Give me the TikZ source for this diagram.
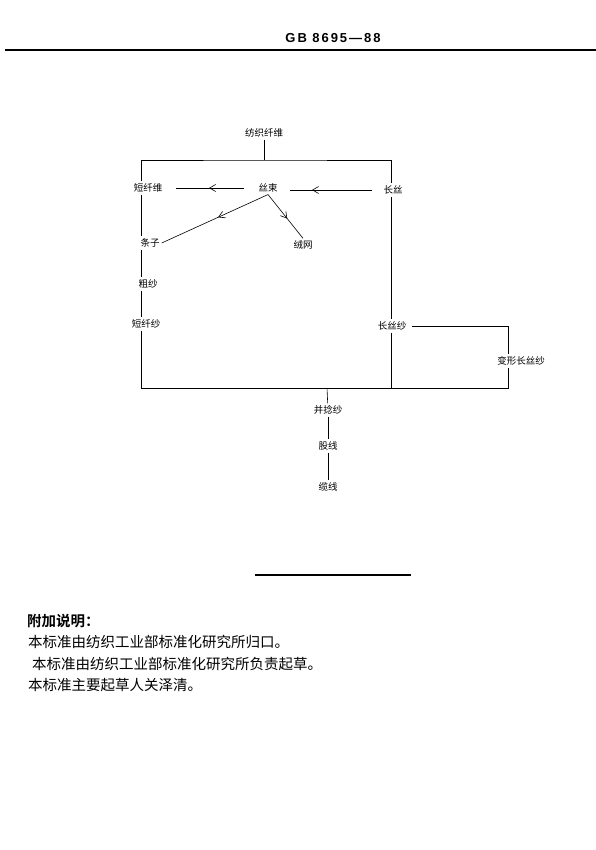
\documentclass[tikz,border=0pt]{standalone}
\usepackage{fontspec}
\setmainfont{Liberation Serif}
\newfontfamily\cjk{Noto Sans CJK SC}[BoldFont={Noto Sans CJK SC Bold}]
\newfontfamily\headfont{Liberation Sans}[LetterSpace=15]
\usetikzlibrary{decorations.markings,arrows.meta}

\tikzset{
  term/.style={font=\cjk\fontsize{9.5}{10}\selectfont, inner sep=2pt},
  flow/.style={line width=0.6pt},
  midarrow/.style={flow,
    decoration={markings, mark=at position #1 with {\arrow{Straight Barb[length=6pt,width=7pt]}}},
    postaction={decorate}},
  note/.style={font=\cjk\fontsize{14.5}{16}\selectfont, anchor=west, inner sep=0pt}
}

\begin{document}
\begin{tikzpicture}[x=1pt,y=-1pt]
\useasboundingbox (0,0) rectangle (596,850);

% page head
\node[font=\headfont\bfseries\fontsize{13}{13}\selectfont] (gb) at (333,38) {GB 8695—88};
\draw[line width=1.5pt] (5,50) -- (596,50);

% terms
\node[term] (fiber)    at (264,133) {纺织纤维};
\node[term] (staple)   at (148,188) {短纤维};
\node[term] (tow)      at (268,188) {丝束};
\node[term] (filament) at (393,190) {长丝};
\node[term] (sliver)   at (150,243) {条子};
\node[term] (web)      at (303,245) {绒网};
\node[term] (roving)   at (148,284) {粗纱};
\node[term] (spun)     at (146,324) {短纤纱};
\node[term] (fyarn)    at (392,326) {长丝纱};
\node[term] (textured) at (521,361) {变形长丝纱};
\node[term] (folded)   at (328,410) {并捻纱};
\node[term] (plied)    at (328,446) {股线};
\node[term] (cabled)   at (328,487) {缆线};

% line columns
\coordinate (L)    at (141,0);
\coordinate (R)    at (391,0);
\coordinate (T)    at (508,0);
\coordinate (top)  at (264,160);
\coordinate (base) at (327,388);
\coordinate (B)    at (508,388);

% tree
\draw[flow] (fiber) -- (top);
\draw[flow] (staple.north -| L) |- (top) -| (filament.north -| R);
\draw[flow] (staple.south -| L) -- (sliver.north -| L);
\draw[flow] (sliver.south -| L) -- (roving.north -| L);
\draw[flow] (roving.south -| L) -- (spun.north -| L);
\draw[flow] (spun.south -| L) |- (B) -- (textured.south -| T);
\draw[flow] (filament.south -| R) -- (fyarn.north -| R);
\draw[flow] (fyarn.south -| R) -- (R |- B);
\draw[flow] ([xshift=4]fyarn.east) -| (textured.north -| T);
\draw[flow] (base) -- (folded);
\draw[flow] (folded) -- (plied);
\draw[flow] (plied) -- (cabled);

% arrows from the tow
\draw[midarrow=0.73] ([xshift=-9]filament.west) -- ([xshift=10]tow.east |- filament.west);
\draw[midarrow=0.52] ([xshift=-12]tow.west) -- ([xshift=12]staple.east);
\draw[midarrow=0.47] (tow.south) -- (sliver.east);
\draw[midarrow=0.55] (tow.south) -- (web.north);

% end rule
\draw[line width=1.2pt] (255,575) -- (411,575);

% notes
\node[note] (addhead) at (27,621) {\bfseries 附加说明：};
\node[note] (note1) at (28,642) {本标准由纺织工业部标准化研究所归口。};
\node[note] (note2) at (32,664) {本标准由纺织工业部标准化研究所负责起草。};
\node[note] (note3) at (28,685) {本标准主要起草人关泽清。};
\end{tikzpicture}
\end{document}
